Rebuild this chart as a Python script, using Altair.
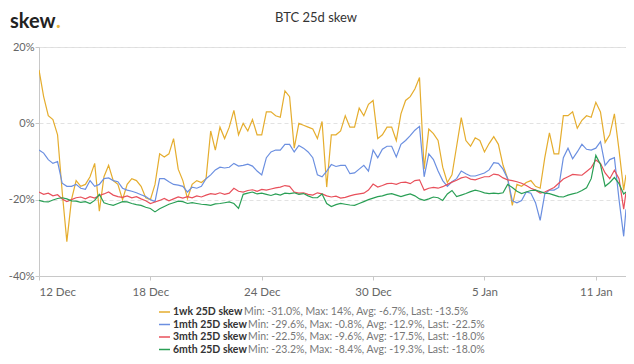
import altair as alt
import pandas as pd

# ---------------- data ----------------
series_names = ["1wk 25D skew", "1mth 25D skew", "3mth 25D skew", "6mth 25D skew"]
series_stats = [
    "Min: -31.0%, Max: 14%, Avg: -6.7%, Last: -13.5%",
    "Min: -29.6%, Max: -0.8%, Avg: -12.9%, Last: -22.5%",
    "Min: -22.5%, Max: -9.6%, Avg: -17.5%, Last: -18.0%",
    "Min: -23.2%, Max: -8.4%, Avg: -19.3%, Last: -18.0%",
]
series_colors = ["#e5ad2e", "#6b8fe0", "#e8505b", "#2a9f55"]

start = pd.Timestamp("2020-12-12 00:00")
times = list(pd.date_range(start, periods=127, freq="6h")) + [start + pd.Timedelta(hours=6 * 126 + 3)]

wk1 = [14.0, 7.0, 2.0, 1.0, -3.0, -18.0, -31.0, -20.0, -15.0, -16.5,
       -16.0, -14.0, -10.5, -23.0, -14.0, -11.0, -15.0, -16.0, -20.0, -16.0,
       -14.5, -15.0, -16.5, -19.5, -20.0, -16.0, -8.0, -8.8, -8.0, -4.0,
       -12.0, -15.0, -19.7, -16.0, -15.0, -15.5, -14.5, -2.0, -7.0, -1.0,
       -4.0, -1.0, 3.4, -3.0, 0.0, -2.0, 1.0, -3.0, -3.0, 3.0,
       3.0, 2.0, 1.6, 8.5, 7.0, -6.5, 0.0, -0.5, -1.0, -1.5,
       -4.0, 0.5, -16.7, -3.0, -3.0, -2.0, 2.0, -1.0, -1.0, 4.0,
       2.0, 5.0, 6.0, -4.0, -3.0, -1.0, -1.0, -4.5, 2.5, 6.0,
       7.0, 9.0, 12.0, -12.0, -1.5, -2.7, -4.5, -11.5, -15.5, -13.5,
       -6.0, 1.5, -4.5, -6.0, -3.8, -4.5, -7.5, -5.3, -3.5, -5.5,
       -11.0, -14.5, -21.5, -16.0, -16.5, -15.5, -15.0, -16.5, -17.0, -9.0,
       -2.5, -8.0, -8.0, 2.0, 2.0, 3.0, -1.3, 0.8, 2.0, 1.6,
       5.5, 3.0, -5.0, -3.0, 2.5, -7.0, -17.5, -13.5]

mth1 = [-7.0, -7.8, -9.5, -10.5, -10.0, -15.7, -16.5, -16.5, -16.0, -17.0,
        -17.3, -15.0, -16.5, -16.0, -14.5, -14.3, -15.0, -15.3, -17.0, -17.5,
        -17.8, -18.2, -18.7, -19.2, -20.0, -20.5, -14.5, -14.5, -15.3, -16.0,
        -16.2, -16.5, -18.0, -16.7, -17.0, -16.5, -14.5, -13.5, -12.2, -11.5,
        -11.7, -11.5, -10.5, -11.2, -11.0, -10.7, -11.2, -12.5, -13.5, -9.0,
        -7.5, -7.0, -7.0, -5.5, -5.5, -7.5, -5.8, -6.5, -7.5, -9.0,
        -13.5, -14.0, -12.5, -10.8, -11.3, -11.0, -11.0, -13.2, -13.0, -12.0,
        -11.0, -12.5, -7.0, -9.0, -6.8, -6.0, -6.0, -8.8, -5.5, -4.5,
        -3.2, -1.8, -0.8, -14.0, -8.0, -9.5, -12.5, -15.0, -16.5, -15.3,
        -14.5, -12.5, -13.2, -13.8, -13.8, -13.4, -13.0, -12.2, -10.3, -10.5,
        -12.0, -14.5, -20.3, -20.8, -20.2, -18.0, -18.3, -20.8, -25.4, -18.5,
        -17.5, -17.5, -16.8, -9.0, -6.5, -9.3, -7.5, -5.5, -6.8, -7.0,
        -6.5, -4.8, -11.0, -9.5, -9.0, -20.0, -29.6, -22.5]

mth3 = [-18.0, -18.6, -18.3, -19.0, -18.7, -19.8, -20.5, -20.0, -19.5, -19.3,
        -19.8, -19.2, -19.6, -18.9, -18.5, -18.0, -18.8, -19.2, -19.4, -19.0,
        -19.5, -19.2, -19.8, -20.3, -21.0, -20.6, -20.2, -19.7, -20.3, -19.8,
        -19.3, -19.6, -19.2, -19.5, -19.0, -19.3, -18.8, -18.4, -18.6, -18.2,
        -18.6, -18.3, -17.0, -17.8, -18.0, -17.6, -17.4, -17.8, -17.3, -17.5,
        -17.2, -16.9, -16.7, -16.3, -16.5, -18.0, -18.3, -18.2, -18.6, -18.8,
        -18.2, -18.5, -19.0, -19.3, -19.1, -19.6, -19.4, -19.0, -18.7, -18.5,
        -18.3, -17.5, -15.9, -16.7, -16.3, -15.8, -15.7, -16.0, -15.5, -15.4,
        -15.8, -15.0, -14.8, -17.5, -17.0, -16.8, -17.0, -16.6, -16.0, -15.4,
        -14.9, -14.3, -14.0, -14.6, -14.8, -14.4, -14.0, -14.0, -13.3, -13.5,
        -14.3, -14.8, -15.0, -15.3, -15.7, -16.3, -17.0, -17.5, -18.3, -18.0,
        -17.4, -16.8, -15.7, -14.6, -14.0, -13.4, -13.5, -13.6, -12.6, -11.6,
        -9.6, -10.5, -13.0, -14.5, -12.3, -14.5, -22.5, -18.0]

mth6 = [-20.2, -20.5, -20.6, -20.1, -19.7, -19.5, -19.8, -20.3, -20.4, -20.7,
        -20.5, -21.0, -20.2, -18.6, -20.8, -21.2, -21.5, -21.0, -20.5, -20.6,
        -21.0, -21.3, -21.5, -22.0, -22.3, -23.2, -22.4, -21.8, -21.2, -20.8,
        -20.4, -20.5, -21.0, -20.8, -21.0, -21.2, -21.3, -21.5, -21.1, -21.0,
        -20.8, -20.6, -21.0, -22.3, -18.6, -18.3, -18.0, -18.5, -18.3, -18.6,
        -18.9, -18.5, -18.8, -18.3, -18.4, -18.2, -18.6, -18.4, -19.0, -19.5,
        -19.5, -18.5, -21.0, -21.8, -21.3, -21.0, -21.2, -21.4, -21.5, -21.0,
        -20.5, -20.0, -19.6, -19.2, -19.0, -18.6, -18.4, -18.8, -19.2, -18.8,
        -18.5, -19.0, -19.8, -20.2, -19.8, -19.3, -19.5, -20.2, -18.5, -17.6,
        -19.2, -18.8, -18.4, -17.9, -17.5, -17.8, -18.2, -18.4, -18.3, -18.4,
        -18.2, -16.0, -16.8, -17.8, -18.4, -18.0, -17.6, -17.5, -17.9, -18.3,
        -18.4, -18.8, -19.2, -19.3, -18.8, -18.5, -18.2, -17.6, -16.9, -14.5,
        -8.4, -10.8, -16.5, -15.5, -14.2, -15.8, -18.5, -18.0]

y_ticks = [-40, -20, 0, 20]

# ---------------- tables ----------------
rows = []
for name, vals in zip(series_names, [wk1, mth1, mth3, mth6]):
    for t, v in zip(times, vals):
        rows.append({"series": name, "time": t, "value": v})
df = pd.DataFrame(rows)

W, H = 587, 229
LEFT = 31
TOP = 39
legend_x0 = 159 - 8 - LEFT
legend_y0 = 265
legend_dy = 12.5
name_widths = [67, 71, 71, 71]
leg = pd.DataFrame({
    "series": series_names,
    "stats": series_stats,
    "lx1": [legend_x0] * 4,
    "lx2": [legend_x0 + 11] * 4,
    "tx": [legend_x0 + 14] * 4,
    "sx": [legend_x0 + 14 + w + 4 for w in name_widths],
    "ly": [legend_y0 + i * legend_dy for i in range(4)],
})

color_scale = alt.Scale(domain=series_names, range=series_colors)

x_axis = alt.Axis(
    values=[alt.DateTime(year=2020, month=12, date=d) for d in (12, 18, 24, 30)]
    + [alt.DateTime(year=2021, month=1, date=d) for d in (5, 11)],
    format="%-d %b", title=None, grid=False,
    labelFontSize=11.5, labelColor="#666666", labelPadding=6,
    domainColor="#c8c8c8", tickColor="#c8c8c8", tickSize=4,
)
y_axis = alt.Axis(
    values=y_ticks, labelExpr="datum.value + '%'", title=None,
    grid=True, gridDash=[4, 3], gridColor="#e2e2e2",
    labelFontSize=11, labelColor="#666666", labelPadding=1,
    domainColor="#c8c8c8", tickColor="#c8c8c8", tickSize=4,
)

lines = alt.Chart(df).mark_line(strokeWidth=1.2, clip=True).encode(
    x=alt.X("time:T", axis=x_axis,
            scale=alt.Scale(domain=[alt.DateTime(year=2020, month=12, date=12),
                                    alt.DateTime(year=2021, month=1, date=12, hours=15)],
                            nice=False)),
    y=alt.Y("value:Q", axis=y_axis, scale=alt.Scale(domain=[-40, 20], nice=False)),
    color=alt.Color("series:N", scale=color_scale, legend=None),
    order=alt.Order("time:T"),
)

leg_base = alt.Chart(leg)
leg_lines = leg_base.mark_rule(strokeWidth=1.5).encode(
    x=alt.X("lx1:Q", scale=None), x2="lx2:Q",
    y=alt.Y("ly:Q", scale=None),
    color=alt.Color("series:N", scale=color_scale, legend=None),
)
leg_names = leg_base.mark_text(align="left", baseline="middle", fontWeight="bold",
                               fontSize=10.5, color="#333333").encode(
    x=alt.X("tx:Q", scale=None), y=alt.Y("ly:Q", scale=None), text="series:N",
)
leg_stats = leg_base.mark_text(align="left", baseline="middle",
                               fontSize=10.5, color="#777777").encode(
    x=alt.X("sx:Q", scale=None), y=alt.Y("ly:Q", scale=None), text="stats:N",
)

title = alt.Chart(pd.DataFrame({"t": ["BTC 25d skew"]})).mark_text(
    fontSize=13, color="#333333", baseline="middle", align="center"
).encode(x=alt.value(316 - 8 - LEFT), y=alt.value(18 - 8 - TOP), text="t:N")

logo = alt.Chart(pd.DataFrame({"t": ["skew"]})).mark_text(
    fontSize=20, fontWeight="bold", color="#222222", baseline="alphabetic", align="left"
).encode(x=alt.value(10 - 8 - LEFT), y=alt.value(28 - 8 - TOP), text="t:N")
logo_dot = alt.Chart(pd.DataFrame({"t": ["."]})).mark_text(
    fontSize=20, fontWeight="bold", color="#e5b53a", baseline="alphabetic", align="left"
).encode(x=alt.value(56 - 8 - LEFT), y=alt.value(28 - 8 - TOP), text="t:N")

chart = alt.layer(lines, leg_lines, leg_names, leg_stats, title, logo, logo_dot).properties(
    width=W, height=H,
    autosize=alt.AutoSizeParams(type="none"),
    padding={"left": LEFT, "top": TOP, "right": 0, "bottom": 80},
).configure_view(stroke=None).configure(font="Lato")

chart.save("out.html", embed_options={"renderer": "svg", "actions": False})
